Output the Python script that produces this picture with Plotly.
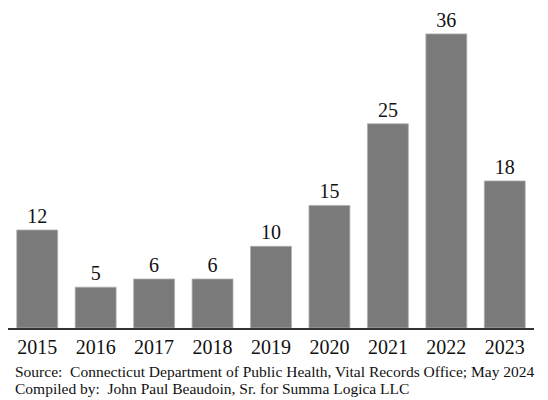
import plotly.graph_objects as go

years = ["2015", "2016", "2017", "2018", "2019", "2020", "2021", "2022", "2023"]
counts = [12, 5, 6, 6, 10, 15, 25, 36, 18]
source_lines = [
    "Source:  Connecticut Department of Public Health, Vital Records Office; May 2024",
    "Compiled by:  John Paul Beaudoin, Sr. for Summa Logica LLC",
]

FONT = "Liberation Serif, Times New Roman, serif"

# page has an 8px body margin; figure is sized/offset to compensate
fig = go.Figure(go.Bar(
    x=years, y=counts,
    marker=dict(color="#7a7a7a", line=dict(color="#b0b0b0", width=0.8)),
    text=[str(c) for c in counts], textposition="outside",
    textfont=dict(family=FONT, size=20, color="#111"),
    cliponaxis=False,
))

fig.update_layout(
    width=548, height=392,
    margin=dict(l=0, r=22, t=0, b=72),
    paper_bgcolor="white", plot_bgcolor="white",
    bargap=0.3,
    showlegend=False,
    font=dict(family=FONT, color="#111"),
    xaxis=dict(showline=True, linecolor="#333", linewidth=2, ticks="",
               tickfont=dict(family=FONT, size=20, color="#111"),
               showgrid=False),
    yaxis=dict(visible=False, range=[0, 39.17], showgrid=False),
)

plot_h = 392 - 72
for line, py in zip(source_lines, [363, 380]):
    fig.add_annotation(
        text=line, xref="paper", yref="paper",
        x=0, xshift=5, y=(plot_h - py) / plot_h,
        xanchor="left", yanchor="middle", showarrow=False,
        font=dict(family=FONT, size=15.5, color="#111"),
    )

fig.write_html("out.html")
